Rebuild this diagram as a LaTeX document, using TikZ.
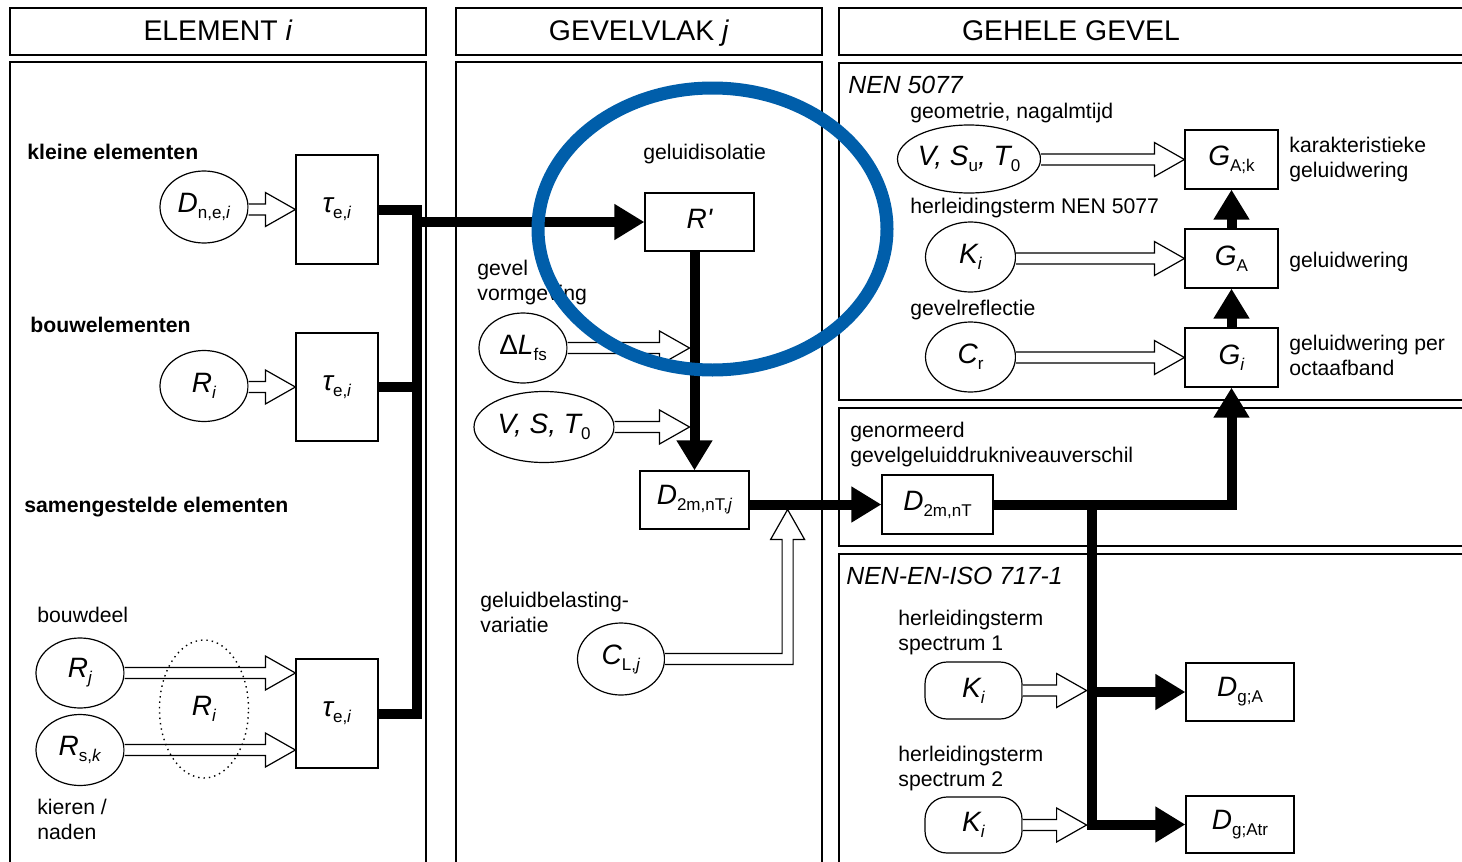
\documentclass[tikz,border=0pt]{standalone}
\usepackage{fontspec}
\setmainfont{Liberation Sans}
\usetikzlibrary{shapes.geometric,arrows.meta,calc}

\definecolor{ringblauw}{RGB}{0,94,170}

% grootheid met index
\newcommand{\grh}[2]{{\fontsize{14}{14}\selectfont\itshape #1}\raisebox{-3pt}{\fontsize{8.5}{8.5}\selectfont #2}}
% open pijl (dubbele steel), horizontaal naar #2
\newcommand{\hollowarrow}[2]{%
  \filldraw[hollow] let \p1=(#1), \p2=(#2) in
    (\x1,\y2+2.75pt) -- (\x2-15pt,\y2+2.75pt) -- (\x2-15pt,\y2+8.5pt) -- (\x2,\y2)
    -- (\x2-15pt,\y2-8.5pt) -- (\x2-15pt,\y2-2.75pt) -- (\x1,\y2-2.75pt);}

\begin{document}
\begin{tikzpicture}[x=0.5pt, y=-0.5pt,
    panel/.style={draw, line width=0.8pt},
    blok/.style={draw, rectangle, line width=0.6pt, inner sep=0pt},
    ovaal/.style={draw, ellipse, line width=0.6pt, inner sep=0pt},
    ovaalblok/.style={draw, rectangle, rounded corners=11pt, line width=0.6pt, inner sep=0pt},
    stip/.style={draw, ellipse, dotted, line width=0.7pt, inner sep=0pt},
    kop/.style={inner sep=0pt, text height=10.5pt, text depth=3pt, font=\fontsize{14.2}{16}\selectfont},
    tekst/.style={anchor=west, inner sep=0pt, align=left, font=\fontsize{10.6}{12.5}\selectfont},
    vet/.style={anchor=west, inner sep=0pt, font=\fontsize{10.6}{12.5}\selectfont\bfseries},
    norm/.style={anchor=west, inner sep=0pt, font=\fontsize{12.4}{14}\selectfont\itshape},
    bus/.style={line width=5pt},
    pijl/.style={bus, -{Triangle[length=15pt, width=17pt]}},
    hollow/.style={fill=white, line width=0.6pt},
    ring/.style={draw=ringblauw, line width=6.5pt}]

    \fill[white] (0,0) rectangle (1462,862);
    \useasboundingbox (0,0) rectangle (1462,862);

    % koppen
    \draw[panel] (10,8) rectangle (426,55);
    \draw[panel] (456,8) rectangle (822,55);
    \draw[panel] (839,8) rectangle (1480,55);
    \node[kop] (kopi) at (218,33) {ELEMENT \textit{i}};
    \node[kop] (kopj) at (639,33) {GEVELVLAK \textit{j}};
    \node[kop] (kopg) at (1071,33) {GEHELE GEVEL};

    % vlakken
    \draw[panel] (10,62) rectangle (426,880);
    \draw[panel] (456,62) rectangle (822,880);
    \draw[panel] (839,63) rectangle (1480,400);
    \draw[panel] (839,408) rectangle (1480,546);
    \draw[panel] (839,554) rectangle (1480,880);

    % element i
    \node[vet] (klein) at (27,152) {kleine elementen};
    \node[ovaal, minimum width=44pt, minimum height=36pt] (dne) at (204,207) {\grh{D}{n,e,\textit{i}}};
    \node[blok, minimum width=41pt, minimum height=54.5pt] (t1) at (337,209.5) {\grh{τ}{e,\textit{i}}};
    \node[vet] (bouw) at (30,325) {bouwelementen};
    \node[ovaal, minimum width=44pt, minimum height=35.5pt] (ri) at (204,386) {\grh{R}{\textit{i}}};
    \node[blok, minimum width=41pt, minimum height=54pt] (t2) at (337,387) {\grh{τ}{e,\textit{i}}};
    \node[vet] (samen) at (24,507) {samengestelde elementen};
    \node[tekst] (bdeel) at (37,615) {bouwdeel};
    \node[ovaal, minimum width=44pt, minimum height=35pt] (rj) at (80,673) {\grh{R}{\textit{j}}};
    \node[ovaal, minimum width=44pt, minimum height=35.5pt] (rsk) at (80,750) {\grh{R}{s,\textit{k}}};
    \node[tekst] (kier) at (37,819.5) {kieren /\\naden};
    \node[blok, minimum width=41pt, minimum height=54.5pt] (t3) at (337,713.5) {\grh{τ}{e,\textit{i}}};

    % gevelvlak j
    \node[tekst] (isol) at (643,154) {geluidisolatie};
    \node[blok, minimum width=54.5pt, minimum height=29pt] (rp) at (699.5,222) {\grh{R\textquotesingle}{}};
    \node[tekst] (vorm) at (477,282.5) {gevel\\vormgeving};
    \node[ovaal, minimum width=44pt, minimum height=35pt] (dl) at (523,348) {\grh{\upshape Δ\itshape L}{fs}};
    \node[ovaal, minimum width=70pt, minimum height=35.5pt, inner xsep=-2pt] (vst) at (544,427) {\grh{V, S, T}{0}};
    \node[blok, minimum width=54.5pt, minimum height=29pt] (d2j) at (694.5,500) {\grh{D}{2m,nT,\textit{j}}};
    \node[tekst] (belast) at (480,612.5) {geluidbelasting-\\variatie};
    \node[ovaal, minimum width=43.5pt, minimum height=36pt] (cl) at (621,659) {\grh{C}{L,\textit{j}}};

    % gehele gevel: NEN 5077
    \node[norm] (nen) at (848,85) {NEN 5077};
    \node[tekst] (geom) at (910,113) {geometrie, nagalmtijd};
    \node[ovaal, minimum width=71.5pt, minimum height=34pt, inner xsep=-6pt] (vsut) at (969,159) {\grh{V, S}{u}\grh{, T}{0}};
    \node[blok, minimum width=46.5pt, minimum height=29.5pt] (gak) at (1231.5,159.5) {\grh{G}{A;k}};
    \node[tekst] (kar) at (1289,159.5) {karakteristieke\\geluidwering};
    \node[tekst] (herl) at (910,208) {herleidingsterm NEN 5077};
    \node[ovaal, minimum width=45pt, minimum height=35pt] (kin) at (970.5,257) {\grh{K}{\textit{i}}};
    \node[blok, minimum width=46.5pt, minimum height=29.5pt] (ga) at (1231.5,258.5) {\grh{G}{A}};
    \node[tekst] (wer) at (1289,262) {geluidwering};
    \node[tekst] (refl) at (910,310) {gevelreflectie};
    \node[ovaal, minimum width=45pt, minimum height=35pt] (cr) at (970.5,357) {\grh{C}{r}};
    \node[blok, minimum width=46.5pt, minimum height=29.5pt] (gi) at (1231.5,357.5) {\grh{G}{\textit{i}}};
    \node[tekst] (oct) at (1289,355) {geluidwering per\\octaafband};

    % genormeerd verschil
    \node[tekst] (genorm) at (850,444.5) {genormeerd\\gevelgeluiddrukniveauverschil};
    \node[blok, minimum width=55.5pt, minimum height=29.5pt] (d2) at (937.5,504.5) {\grh{D}{2m,nT}};

    % NEN-EN-ISO 717-1
    \node[norm] (iso) at (846,576) {NEN-EN-ISO 717-1};
    \node[tekst] (spec1) at (898,632.5) {herleidingsterm\\spectrum 1};
    \node[ovaalblok, minimum width=48.5pt, minimum height=28.5pt] (k1) at (973.5,690.5) {\grh{K}{\textit{i}}};
    \node[blok, minimum width=54pt, minimum height=29pt] (dga) at (1240,692) {\grh{D}{g;A}};
    \node[tekst] (spec2) at (898,769) {herleidingsterm\\spectrum 2};
    \node[ovaalblok, minimum width=48.5pt, minimum height=28pt] (k2) at (973.5,825) {\grh{K}{\textit{i}}};
    \node[blok, minimum width=54pt, minimum height=28.5pt] (dgatr) at (1240,824.5) {\grh{D}{g;Atr}};

    % dikke verbindingen
    \coordinate (busbot) at ($(t3.east)+(38,0)$);
    \draw[bus] (t1.east) -| (busbot) -- (t3.east);
    \draw[bus] (t2.east) -- (t2.east -| busbot);
    \draw[pijl] (busbot |- rp.west) -- (rp.west);
    \draw[pijl] (rp.south -| d2j.north) -- (d2j.north);
    \draw[pijl] (d2j.east |- d2.west) -- (d2.west);
    \coordinate (split) at ($(d2.east)+(98,0)$);
    \draw[pijl] (d2.east) -| (gi.south);
    \draw[pijl] (split) |- (dgatr.west);
    \draw[pijl] (split |- dga.west) -- (dga.west);
    \draw[pijl] (gi.north) -- (ga.south);
    \draw[pijl] (ga.north) -- (gak.south);

    % open pijlen
    \hollowarrow{dne.east}{t1.west}
    \hollowarrow{ri.east}{t2.west}
    \hollowarrow{rj.east}{t3.west |- rj.east}
    \hollowarrow{rsk.east}{t3.west |- rsk.east}
    \path (dl.east -| d2j.north) ++(-5,0) coordinate (dltip);
    \path (vst.east -| d2j.north) ++(-5,0) coordinate (vsttip);
    \hollowarrow{dl.east}{dltip}
    \hollowarrow{vst.east}{vsttip}
    \hollowarrow{vsut.east}{gak.west}
    \hollowarrow{kin.east}{ga.west}
    \hollowarrow{cr.east}{gi.west}
    \path (k1.east -| split) ++(-5,0) coordinate (k1tip);
    \path (k2.east -| split) ++(-5,0) coordinate (k2tip);
    \hollowarrow{k1.east}{k1tip}
    \hollowarrow{k2.east}{k2tip}
    \path (d2j.east |- d2.west) ++(38,5) coordinate (cltip);
    \filldraw[hollow] let \p1=(cl.east), \p2=(cltip) in
        (\x1,\y1+2.75pt) -- (\x2-2.75pt,\y1+2.75pt) -- (\x2-2.75pt,\y2-15pt) -- (\x2-8.5pt,\y2-15pt)
        -- (\x2,\y2) -- (\x2+8.5pt,\y2-15pt) -- (\x2+2.75pt,\y2-15pt) -- (\x2+2.75pt,\y1-2.75pt) -- (\x1,\y1-2.75pt);

    % samengesteld element
    \node[stip, minimum width=44.5pt, minimum height=69pt] (rig) at (204,709) {\grh{R}{\textit{i}}};

    % blauwe markering
    \draw[ring] (712.5,229) ellipse [x radius=174.5, y radius=141];
\end{tikzpicture}
\end{document}
